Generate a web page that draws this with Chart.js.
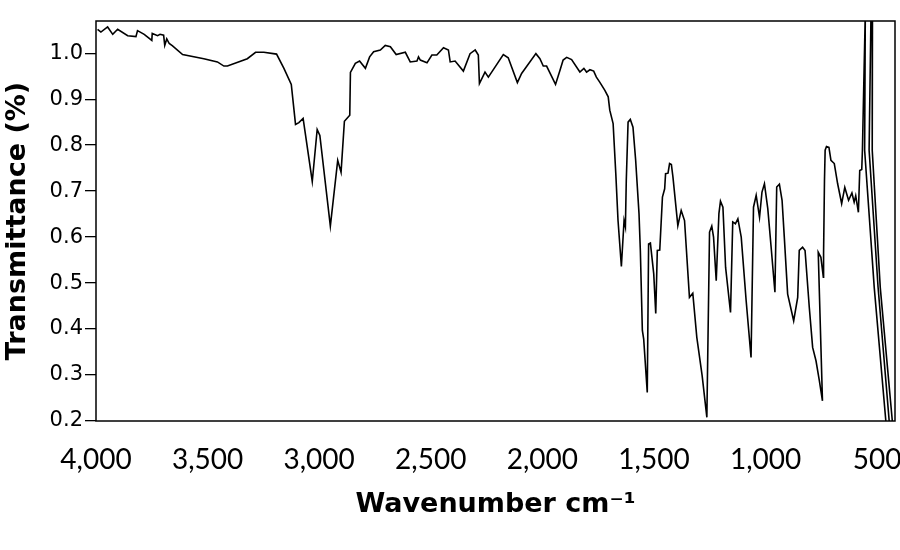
<!DOCTYPE html>
<html lang="en">
<head>
    <meta charset="UTF-8">
    <title>IR spectrum</title>
    <script src="https://cdn.jsdelivr.net/npm/chart.js"></script>
    <style>
        body { margin: 0; background: #fff; }
        #chartBox { width: 900px; height: 550px; }
    </style>
</head>
<body>

<div id="chartBox">
    <canvas id="irChart" width="900" height="550"></canvas>
</div>

<script>
    // spectrum: wavenumber (cm-1) and transmittance
    const wavenumber = [
        3993, 3978, 3948, 3925, 3903, 3858, 3821, 3814, 3784, 3750,
        3748, 3724, 3713, 3697, 3692, 3683, 3672, 3657, 3612, 3517,
        3456, 3427, 3411, 3322, 3285, 3248, 3191, 3158, 3125, 3106,
        3091, 3072, 3031, 3009, 2997, 2950, 2917, 2902, 2887, 2863,
        2860, 2838, 2819, 2793, 2774, 2756, 2726, 2704, 2681, 2655,
        2614, 2592, 2562, 2555, 2547, 2517, 2495, 2473, 2443, 2421,
        2413, 2391, 2354, 2324, 2301, 2287, 2282, 2257, 2242, 2175,
        2153, 2112, 2093, 2029, 2011, 1996, 1981, 1941, 1921, 1907,
        1891, 1869, 1832, 1814, 1802, 1787, 1770, 1758, 1743, 1720,
        1705, 1698, 1683, 1671, 1661, 1646, 1634, 1628, 1624, 1616,
        1606, 1594, 1582, 1567, 1561, 1552, 1546, 1530, 1524, 1516,
        1501, 1492, 1485, 1474, 1462, 1452, 1448, 1437, 1430, 1422,
        1415, 1393, 1378, 1363, 1341, 1326, 1308, 1284, 1263, 1251,
        1241, 1233, 1221, 1209, 1202, 1191, 1179, 1157, 1147, 1135,
        1124, 1109, 1087, 1065, 1054, 1042, 1027, 1016, 1005, 990,
        975, 958, 950, 938, 926, 916, 901, 874, 856, 849,
        834, 823, 804, 789, 774, 759, 745, 764, 752, 741,
        740, 736, 733, 727, 716, 707, 692, 677, 659, 645,
        628, 613, 603, 596, 584, 578, 569, 566, 553, 556,
        513, 461, 454, 446, 496, 536, 528, 525, 521, 522,
        486, 432, 422
    ];
    const transmittance = [
        1.052, 1.046, 1.057, 1.041, 1.052, 1.038, 1.036, 1.049, 1.041, 1.028,
        1.043, 1.038, 1.041, 1.039, 1.017, 1.031, 1.021, 1.016, 0.997, 0.988,
        0.981, 0.972, 0.972, 0.988, 1.002, 1.002, 0.998, 0.967, 0.932, 0.845,
        0.849, 0.858, 0.721, 0.834, 0.821, 0.624, 0.767, 0.741, 0.852, 0.865,
        0.958, 0.978, 0.983, 0.967, 0.992, 1.003, 1.007, 1.017, 1.014, 0.997,
        1.002, 0.981, 0.983, 0.992, 0.985, 0.979, 0.996, 0.996, 1.012, 1.007,
        0.981, 0.983, 0.961, 0.999, 1.007, 0.996, 0.934, 0.959, 0.948, 0.997,
        0.990, 0.936, 0.956, 0.999, 0.988, 0.972, 0.972, 0.932, 0.963, 0.985,
        0.991, 0.986, 0.959, 0.967, 0.959, 0.964, 0.961, 0.948, 0.937, 0.919,
        0.905, 0.876, 0.847, 0.738, 0.636, 0.536, 0.636, 0.622, 0.723, 0.850,
        0.856, 0.839, 0.767, 0.651, 0.571, 0.397, 0.378, 0.262, 0.585, 0.587,
        0.520, 0.434, 0.571, 0.572, 0.687, 0.705, 0.738, 0.739, 0.760, 0.758,
        0.731, 0.625, 0.658, 0.636, 0.469, 0.478, 0.382, 0.298, 0.208, 0.611,
        0.624, 0.600, 0.505, 0.651, 0.678, 0.665, 0.534, 0.436, 0.633, 0.629,
        0.640, 0.600, 0.462, 0.338, 0.665, 0.691, 0.643, 0.698, 0.716, 0.662,
        0.578, 0.480, 0.709, 0.715, 0.680, 0.600, 0.476, 0.418, 0.469, 0.571,
        0.578, 0.571, 0.447, 0.360, 0.331, 0.288, 0.244, 0.567, 0.556, 0.513,
        0.564, 0.723, 0.789, 0.797, 0.795, 0.767, 0.760, 0.716, 0.673, 0.708,
        0.680, 0.696, 0.676, 0.690, 0.654, 0.745, 0.747, 0.789, 1.091, 0.789,
        0.490, 0.200, 0.144, 0.200, 0.492, 0.789, 1.070, 1.089, 1.070, 0.789,
        0.490, 0.200, 0.157
    ];

    const xTicks = [4000, 3500, 3000, 2500, 2000, 1500, 1000, 500];
    const xTickLabels = ['4,000', '3,500', '3,000', '2,500', '2,000', '1,500', '1,000', '500'];
    const yTicks = [0.2, 0.3, 0.4, 0.5, 0.6, 0.7, 0.8, 0.9, 1.0];
    const yTickLabels = ['0.2', '0.3', '0.4', '0.5', '0.6', '0.7', '0.8', '0.9', '1.0'];

    const points = wavenumber.map((w, i) => ({ x: w, y: transmittance[i] }));

    // box round the plot area
    const frame = {
        id: 'frame',
        afterDatasetsDraw(chart) {
            const a = chart.chartArea;
            const ctx = chart.ctx;
            ctx.save();
            ctx.strokeStyle = '#000';
            ctx.lineWidth = 1.5;
            ctx.strokeRect(a.left, a.top, a.right - a.left, a.bottom - a.top);
            ctx.restore();
        }
    };

    const ctx = document.getElementById('irChart').getContext('2d');
    new Chart(ctx, {
        type: 'scatter',
        data: {
            datasets: [{
                data: points,
                showLine: true,
                borderColor: '#000',
                borderWidth: 1.6,
                pointRadius: 0,
                tension: 0
            }]
        },
        options: {
            responsive: false,
            animation: false,
            layout: { padding: { top: 21, right: 5, left: 0, bottom: 0 } },
            plugins: { legend: { display: false }, tooltip: { enabled: false } },
            scales: {
                x: {
                    type: 'linear',
                    reverse: true,
                    min: 420,
                    max: 4000,
                    afterBuildTicks: s => { s.ticks = xTicks.map(v => ({ value: v })); },
                    afterFit: s => {
                        s.height = 129;
                        s.paddingLeft = 0;
                        s.paddingRight = 0;
                    },
                    ticks: {
                        callback: (v, i) => xTickLabels[i],
                        font: { family: 'Lato', size: 28 },
                        color: '#000',
                        padding: 22,
                        maxRotation: 0,
                        autoSkip: false
                    },
                    grid: { display: false, drawTicks: false },
                    border: { display: false },
                    title: {
                        display: true,
                        text: 'Wavenumber cm⁻¹',
                        font: { family: 'DejaVu Sans', size: 27, weight: 'bold' },
                        color: '#000',
                        padding: { top: 0, bottom: 29 }
                    }
                },
                y: {
                    min: 0.2,
                    max: 1.07,
                    afterBuildTicks: s => { s.ticks = yTicks.map(v => ({ value: v })); },
                    afterFit: s => { s.width = 96; },
                    ticks: {
                        callback: (v, i) => yTickLabels[i],
                        font: { family: 'DejaVu Sans', size: 21 },
                        color: '#000',
                        padding: 2
                    },
                    grid: { drawOnChartArea: false, drawTicks: true, tickLength: 11, color: '#000', lineWidth: 1.3 },
                    border: { display: false },
                    title: {
                        display: true,
                        text: 'Transmittance (%)',
                        font: { family: 'DejaVu Sans', size: 27, weight: 'bold' },
                        color: '#000',
                        padding: { top: 2, bottom: 0 }
                    }
                }
            }
        },
        plugins: [frame]
    });
</script>

</body>
</html>
